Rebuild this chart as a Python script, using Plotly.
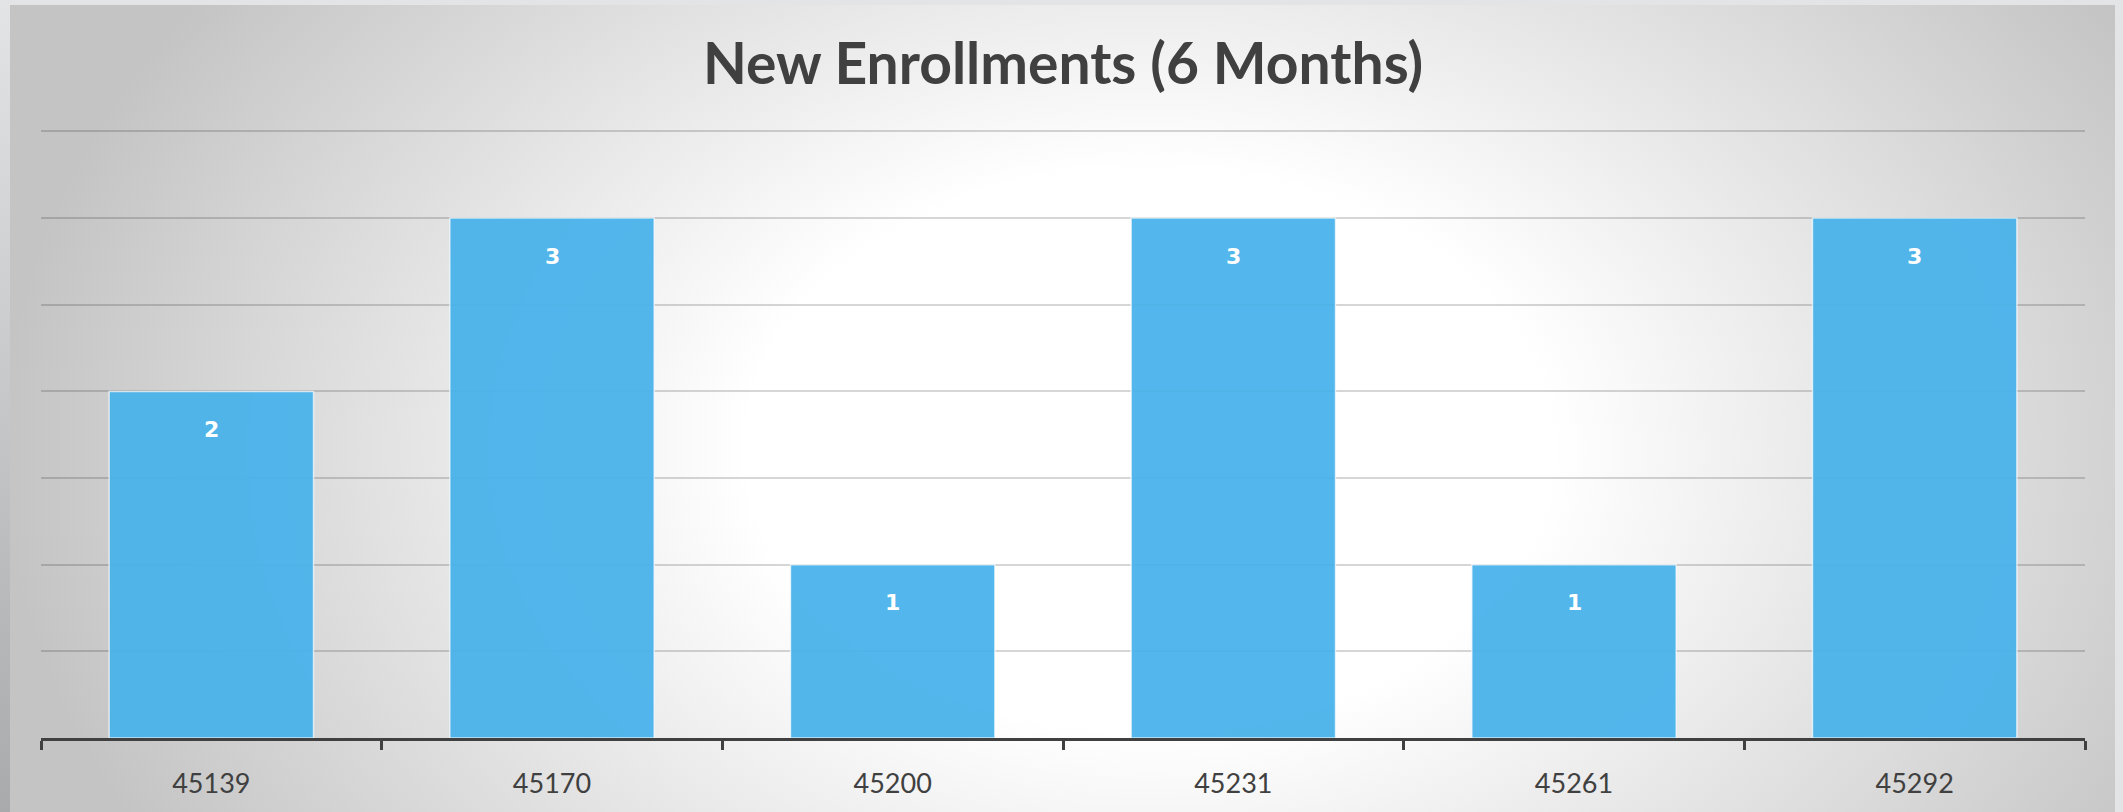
import base64
import plotly.graph_objects as go

# ---- data ----
categories = ["45139", "45170", "45200", "45231", "45261", "45292"]
enrollments = [2, 3, 1, 3, 1, 3]
chart_title = "New Enrollments (6 Months)"

# ---- layout geometry ----
W, H = 2123, 812
ML, MR, MT, MB = 41, 38, 128, 74
PW, PH = W - ML - MR, H - MT - MB

svg = f"""<svg xmlns="http://www.w3.org/2000/svg" width="{W}" height="{H}" viewBox="0 0 {W} {H}" preserveAspectRatio="none">
<defs>
<radialGradient id="g" gradientUnits="userSpaceOnUse" cx="1150" cy="450" r="1150"
 gradientTransform="translate(1150 450) scale(1 0.7) translate(-1150 -450)">
<stop offset="0" stop-color="#ffffff"/>
<stop offset="0.35" stop-color="#ffffff"/>
<stop offset="1" stop-color="#c4c4c4"/>
</radialGradient>
<linearGradient id="l" x1="0" y1="0" x2="0" y2="1">
<stop offset="0" stop-color="#e2e4e6"/>
<stop offset="1" stop-color="#a8aaac"/>
</linearGradient>
</defs>
<rect x="0" y="0" width="{W}" height="{H}" fill="#e3e4e6"/>
<rect x="0" y="0" width="10" height="{H}" fill="url(#l)"/>
<rect x="10" y="5" width="{W-18}" height="{H-5}" fill="url(#g)"/>
</svg>"""
src = "data:image/svg+xml;base64," + base64.b64encode(svg.encode()).decode()

fig = go.Figure()
fig.add_trace(go.Bar(
    x=categories, y=enrollments,
    marker=dict(color="#4AB3EB", line=dict(color="rgba(255,255,255,0.7)", width=1.5)),
    opacity=0.95,
    hoverinfo="x+y",
))

for i, v in enumerate(enrollments):
    fig.add_annotation(x=i, y=v, xref="x", yref="y", yshift=-38, text=f"<b>{v}</b>", showarrow=False,
                       font=dict(family="DejaVu Sans", size=22, color="white"),
                       xanchor="center", yanchor="middle")

fig.update_layout(
    width=W, height=H,
    margin=dict(l=ML, r=MR, t=MT, b=MB, autoexpand=False),
    paper_bgcolor="#e3e4e6",
    plot_bgcolor="rgba(0,0,0,0)",
    bargap=0.4,
    showlegend=False,
    title=dict(text=f"<b>{chart_title}</b>", x=0.5, xref="paper", xanchor="center",
               y=1 - 64 / H, yref="container", yanchor="middle",
               font=dict(family="Lato", size=57, color="#404040")),
    images=[dict(source=src, xref="paper", yref="paper",
                 x=-ML / PW, y=1 + MT / PH, sizex=W / PW, sizey=H / PH,
                 xanchor="left", yanchor="top", sizing="stretch", layer="below")],
    xaxis=dict(type="category", range=[-0.5, len(categories) - 0.5], autorange=False,
               showgrid=False, showline=True, linecolor="#404040", linewidth=3,
               ticks="outside", tickson="boundaries", ticklen=9, tickwidth=3, tickcolor="#404040",
               tickfont=dict(family="Lato", size=27, color="#404040"), ticklabelstandoff=20,
               tickangle=0, zeroline=False),
    yaxis=dict(range=[0, 3.52], autorange=False, tickmode="linear", tick0=0, dtick=0.5,
               showticklabels=False, showgrid=True,
               gridcolor="rgba(0,0,0,0.16)", gridwidth=1.5, zeroline=False, showline=False),
)

fig.write_html(
    "out.html",
    config={"displayModeBar": False},
    post_script="document.body.style.margin='0';document.body.style.overflow='hidden';",
)
